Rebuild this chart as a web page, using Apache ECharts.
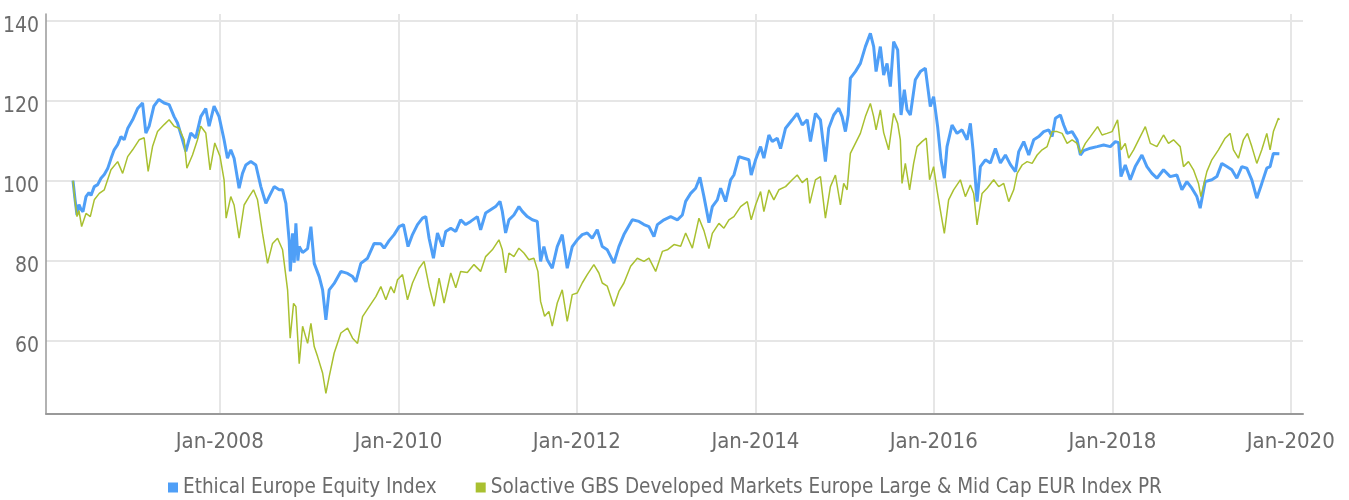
<!DOCTYPE html>
<html>
<head>
<meta charset="utf-8">
<script src="https://cdn.jsdelivr.net/npm/echarts@6/dist/echarts.min.js"></script>
<style>
  html, body { margin: 0; padding: 0; background: #fff; }
  #chart { width: 1349px; height: 500px; }
</style>
</head>
<body>
<div id="chart"></div>
<script>
// Series names (legend order)
const seriesNames = [
  'Ethical Europe Equity Index',
  'Solactive GBS Developed Markets Europe Large & Mid Cap EUR Index PR'
];

// Observation times as decimal years, and index levels (start = 100)
const ethicalYears = [
  2006.354, 2006.376, 2006.399, 2006.421, 2006.444, 2006.466, 2006.500, 2006.533, 2006.556, 2006.593, 2006.631, 2006.668, 2006.705, 2006.743, 2006.780, 2006.816, 2006.855, 2006.892, 2006.928, 2006.967,
  2007.023, 2007.078, 2007.134, 2007.171, 2007.208, 2007.261, 2007.317, 2007.376, 2007.432, 2007.488, 2007.526, 2007.582, 2007.619, 2007.675, 2007.731, 2007.787, 2007.843, 2007.880, 2007.936, 2007.992,
  2008.048, 2008.086, 2008.123, 2008.160, 2008.216, 2008.254, 2008.291, 2008.347, 2008.403, 2008.459, 2008.515, 2008.552, 2008.608, 2008.664, 2008.702, 2008.739, 2008.776, 2008.789, 2008.814, 2008.832, 2008.851, 2008.873, 2008.888, 2008.926, 2008.944, 2008.982,
  2009.000, 2009.019, 2009.056, 2009.112, 2009.150, 2009.187, 2009.224, 2009.280, 2009.355, 2009.430, 2009.486, 2009.523, 2009.579, 2009.654, 2009.728, 2009.803, 2009.840, 2009.896, 2009.952,
  2010.008, 2010.057, 2010.108, 2010.158, 2010.214, 2010.270, 2010.307, 2010.344, 2010.393, 2010.438, 2010.494, 2010.531, 2010.587, 2010.643, 2010.698, 2010.754, 2010.810, 2010.885, 2010.922, 2010.978,
  2011.034, 2011.090, 2011.139, 2011.165, 2011.202, 2011.239, 2011.295, 2011.351, 2011.389, 2011.445, 2011.501, 2011.557, 2011.594, 2011.631, 2011.669, 2011.725, 2011.781, 2011.837, 2011.893, 2011.949,
  2012.005, 2012.061, 2012.117, 2012.173, 2012.229, 2012.285, 2012.341, 2012.415, 2012.471, 2012.527, 2012.621, 2012.695, 2012.751, 2012.807, 2012.863, 2012.901, 2012.975,
  2013.050, 2013.125, 2013.181, 2013.218, 2013.274, 2013.330, 2013.378, 2013.423, 2013.479, 2013.517, 2013.573, 2013.610, 2013.666, 2013.722, 2013.759, 2013.815, 2013.871, 2013.927, 2013.953,
  2014.002, 2014.058, 2014.095, 2014.151, 2014.189, 2014.245, 2014.282, 2014.338, 2014.413, 2014.469, 2014.525, 2014.581, 2014.617, 2014.673, 2014.729, 2014.785, 2014.822, 2014.878, 2014.934, 2014.972,
  2015.009, 2015.040, 2015.065, 2015.121, 2015.177, 2015.233, 2015.289, 2015.326, 2015.353, 2015.401, 2015.438, 2015.476, 2015.513, 2015.550, 2015.595, 2015.633, 2015.670, 2015.700, 2015.737, 2015.793, 2015.849, 2015.905, 2015.961, 2015.998,
  2016.043, 2016.081, 2016.118, 2016.148, 2016.204, 2016.260, 2016.316, 2016.372, 2016.409, 2016.439, 2016.484, 2016.521, 2016.577, 2016.633, 2016.689, 2016.745, 2016.801, 2016.857, 2016.913, 2016.950,
  2017.006, 2017.062, 2017.118, 2017.174, 2017.230, 2017.286, 2017.324, 2017.361, 2017.417, 2017.454, 2017.492, 2017.548, 2017.604, 2017.641, 2017.678, 2017.753, 2017.828, 2017.902, 2017.977,
  2018.033, 2018.070, 2018.096, 2018.144, 2018.200, 2018.256, 2018.331, 2018.387, 2018.443, 2018.499, 2018.573, 2018.648, 2018.723, 2018.779, 2018.835, 2018.891, 2018.947, 2018.984,
  2019.040, 2019.115, 2019.171, 2019.227, 2019.283, 2019.339, 2019.395, 2019.451, 2019.507, 2019.563, 2019.619, 2019.675, 2019.731, 2019.768, 2019.805, 2019.872
];
const ethicalValues = [
  100, 95.5, 91.4, 94, 92.8, 92.2, 96, 97, 96.3, 98.5, 99, 100.6, 101.5, 103, 105.5, 107.7, 109, 111, 110.2, 113,
  115.2, 118, 119.4, 111.9, 113.6, 118.6, 120.3, 119.4, 119, 116, 114.4, 110.2, 107.3, 111.9, 110.7, 116, 118, 113.6, 118.6, 116,
  110.2, 105.6, 107.7, 105.6, 98.1, 101.8, 103.9, 104.75, 103.9, 98.5, 94.3, 96, 98.5, 97.7, 97.7, 94.3, 85, 77.3, 86.8, 79.5, 89.3, 80, 83.5, 82, 81.8, 83,
  82.7, 88.5, 79.3, 76, 72.7, 65.2, 72.7, 74.3, 77.3, 76.8, 76, 74.7, 79.3, 80.6, 84.3, 84.2, 83.1, 85, 86.5,
  88.5, 89, 83.5, 86.5, 89, 90.6, 91, 85.6, 80.6, 86.9, 83.5, 87.3, 88.1, 87.3, 90.2, 89, 89.8, 91, 87.7, 91.9,
  92.7, 93.5, 94.8, 92.3, 86.9, 90.2, 91.4, 93.5, 92.3, 91, 90.2, 89.8, 79.8, 83.5, 80.2, 78.1, 83.5, 86.5, 78.1, 83.5,
  85.2, 86.5, 86.9, 85.6, 87.7, 83.5, 82.7, 79.4, 83.5, 86.5, 90.2, 89.8, 89, 88.5, 86, 89, 90.2,
  91, 90.2, 91.4, 94.8, 96.8, 98.1, 100.8, 96, 89.5, 93.5, 95.2, 98.1, 94.75, 100.2, 101.4, 106, 105.6, 105.2, 101.4,
  105.2, 108.5, 105.6, 111.4, 109.75, 110.6, 108, 113.1, 115.2, 116.8, 113.9, 115.2, 109.75, 116.8, 115.2, 104.75, 113.1, 116.4, 118.1, 116,
  112.25, 116.4, 125.6, 127.25, 129.3, 133.5, 136.8, 133.5, 127.25, 133.5, 126.4, 129.3, 123.5, 134.75, 132.7, 116.4, 122.7, 117.7, 116.4, 125.2, 127.25, 128.1, 118.5, 121,
  113.5, 105.2, 100.6, 108.5, 113.9, 111.8, 112.7, 110.2, 114.3, 107.7, 94.75, 103.5, 105.2, 104.4, 108, 104.4, 106.4, 104, 102.25, 107.25,
  109.75, 106.4, 110.2, 111, 112.25, 112.7, 111, 115.6, 116.4, 113.9, 111.8, 112.25, 110.2, 106.4, 107.5, 108.1, 108.5, 108.9, 108.5,
  109.75, 109.5, 101, 103.9, 100.2, 103.5, 106.4, 103.5, 101.8, 100.6, 102.7, 101, 101.4, 97.7, 99.75, 98.1, 96, 93.1,
  99.75, 100.2, 101, 104.3, 103.5, 102.7, 100.6, 103.5, 103.1, 100.2, 95.6, 99.3, 103.1, 103.5, 106.8, 106.7
];

const solactiveYears = [
  2006.354, 2006.376, 2006.399, 2006.421, 2006.451, 2006.500, 2006.548, 2006.593, 2006.649, 2006.705, 2006.780, 2006.855, 2006.911, 2006.967,
  2007.023, 2007.096, 2007.152, 2007.197, 2007.246, 2007.302, 2007.376, 2007.432, 2007.488, 2007.544, 2007.600, 2007.631, 2007.694, 2007.750, 2007.787, 2007.843, 2007.891, 2007.944,
  2008.003, 2008.048, 2008.071, 2008.123, 2008.160, 2008.216, 2008.272, 2008.328, 2008.377, 2008.422, 2008.478, 2008.534, 2008.590, 2008.646, 2008.702, 2008.758, 2008.787, 2008.825, 2008.851, 2008.888, 2008.926, 2008.982,
  2009.019, 2009.056, 2009.094, 2009.150, 2009.187, 2009.224, 2009.280, 2009.355, 2009.430, 2009.486, 2009.542, 2009.598, 2009.672, 2009.747, 2009.803, 2009.859, 2009.915, 2009.952, 2009.990,
  2010.046, 2010.102, 2010.158, 2010.232, 2010.288, 2010.344, 2010.400, 2010.456, 2010.512, 2010.587, 2010.643, 2010.698, 2010.773, 2010.847, 2010.922, 2010.978,
  2011.053, 2011.127, 2011.165, 2011.202, 2011.239, 2011.295, 2011.351, 2011.407, 2011.463, 2011.519, 2011.564, 2011.594, 2011.639, 2011.687, 2011.725, 2011.781, 2011.837, 2011.893, 2011.949,
  2012.005, 2012.061, 2012.117, 2012.191, 2012.247, 2012.285, 2012.341, 2012.415, 2012.471, 2012.527, 2012.602, 2012.677, 2012.751, 2012.807, 2012.882, 2012.957,
  2013.013, 2013.087, 2013.162, 2013.218, 2013.293, 2013.367, 2013.423, 2013.479, 2013.517, 2013.591, 2013.647, 2013.703, 2013.759, 2013.834, 2013.909, 2013.953,
  2014.002, 2014.058, 2014.095, 2014.151, 2014.207, 2014.263, 2014.338, 2014.413, 2014.469, 2014.525, 2014.581, 2014.610, 2014.673, 2014.729, 2014.785, 2014.841, 2014.897, 2014.953, 2014.990,
  2015.028, 2015.065, 2015.121, 2015.177, 2015.233, 2015.289, 2015.326, 2015.353, 2015.401, 2015.438, 2015.494, 2015.550, 2015.595, 2015.625, 2015.644, 2015.681, 2015.729, 2015.774, 2015.812, 2015.868, 2015.916, 2015.953, 2015.998,
  2016.036, 2016.073, 2016.118, 2016.166, 2016.222, 2016.297, 2016.353, 2016.409, 2016.446, 2016.484, 2016.540, 2016.596, 2016.670, 2016.726, 2016.782, 2016.838, 2016.894, 2016.932, 2016.988,
  2017.044, 2017.100, 2017.156, 2017.212, 2017.268, 2017.324, 2017.380, 2017.436, 2017.492, 2017.548, 2017.604, 2017.641, 2017.697, 2017.753, 2017.834, 2017.884, 2017.940, 2017.996,
  2018.058, 2018.096, 2018.144, 2018.182, 2018.238, 2018.294, 2018.369, 2018.425, 2018.499, 2018.573, 2018.629, 2018.685, 2018.760, 2018.797, 2018.853, 2018.909, 2018.965, 2018.992,
  2019.059, 2019.115, 2019.189, 2019.264, 2019.320, 2019.357, 2019.413, 2019.469, 2019.514, 2019.563, 2019.619, 2019.675, 2019.731, 2019.768, 2019.805, 2019.861, 2019.872
];
const solactiveValues = [
  100, 95, 91, 92.5, 88.5, 91.8, 91, 95.2, 96.8, 97.7, 102.7, 104.75, 101.8, 106,
  107.7, 110.2, 110.7, 102.3, 108.5, 112.3, 114, 115.2, 113.6, 113.1, 110.2, 103.1, 106.4, 110.2, 113.6, 111.9, 102.7, 109.4,
  106, 100.2, 90.6, 96, 93.9, 85.6, 93.9, 96, 97.7, 95.2, 86.8, 79.3, 84.3, 85.6, 82.7, 72.7, 60.6, 69.3, 68.5, 54.25, 63.6, 59.3,
  64.3, 58.5, 56, 51.9, 46.8, 51, 56.9, 61.9, 63.1, 60.6, 59.3, 66, 68.5, 71, 73.5, 70.2, 73.5, 71.9, 75.2,
  76.5, 70.2, 74.4, 78.1, 79.8, 73.6, 68.6, 75.6, 69.4, 76.9, 73.2, 77.3, 77, 79, 77.3, 81,
  82.7, 85.2, 82.7, 76.9, 81.9, 81, 83.1, 81.9, 80.2, 80.6, 77.3, 69.8, 66.1, 67.3, 63.6, 69.4, 72.7, 64.8, 71.5,
  71.9, 74.4, 76.5, 79, 76.9, 74.4, 73.6, 68.6, 72.3, 74.4, 78.6, 80.6, 79.8, 80.6, 77.3, 82.3,
  82.7, 84, 83.6, 86.9, 83.1, 90.6, 87.5, 83, 86.8, 89.3, 88.1, 90.2, 91, 93.5, 94.75, 90.2,
  93.9, 97.25, 92.25, 97.7, 95.2, 97.7, 98.5, 100.2, 101.4, 99.5, 100.6, 94.3, 100.2, 101, 90.6, 98.5, 101.4, 93.9, 99.3,
  97.7, 106.8, 109.3, 111.8, 116, 119.3, 116, 112.7, 117.7, 112, 107.7, 116.8, 114.3, 110.2, 99.3, 104.3, 97.7, 104.3, 108.5, 109.75, 110.6, 100.2, 103.5,
  97.7, 92.7, 86.8, 95.2, 97.7, 100.2, 96, 98.9, 96.8, 88.9, 96.8, 98.1, 100.2, 98.5, 99.3, 94.75, 97.7, 101.8, 103.9,
  104.75, 104.3, 106.4, 107.7, 108.5, 112.25, 112.25, 111.8, 109.3, 110.2, 109.3, 106.8, 109.3, 111, 113.5, 111.4, 111.8, 112.25,
  115.2, 107.7, 109.3, 105.6, 107.7, 110.2, 113.5, 109.3, 108.5, 111.4, 109.3, 110.2, 108.5, 103.5, 104.75, 102.7, 99.3, 96,
  102.25, 105.2, 107.7, 110.6, 111.8, 107.7, 105.6, 110.2, 111.8, 108.5, 104.3, 107.7, 111.8, 107.7, 112.25, 115.6, 115.2
];

// Axis ticks
const yTicks = [60, 80, 100, 120, 140];
const xTickYears = [2008, 2010, 2012, 2014, 2016, 2018, 2020];

// Decimal year -> UTC timestamp
function yearToTime(y) {
  const yr = Math.floor(y);
  const a = Date.UTC(yr, 0, 1);
  const b = Date.UTC(yr + 1, 0, 1);
  return a + (y - yr) * (b - a);
}
function pairs(years, values) {
  return years.map((y, i) => [yearToTime(y), values[i]]);
}

const FONT = "'DejaVu Sans Condensed', 'Liberation Sans Narrow', sans-serif";
const TEXT = '#6b6b6b';
const xTicks = xTickYears.map(y => Date.UTC(y, 0, 1));

const chart = echarts.init(document.getElementById('chart'), null, { renderer: 'canvas' });
chart.setOption({
  animation: false,
  backgroundColor: '#ffffff',
  textStyle: { fontFamily: FONT },
  grid: { left: 45, right: 46, top: 14, bottom: 86, containLabel: false },
  legend: {
    data: seriesNames,
    left: 163,
    top: 472,
    icon: 'rect',
    itemWidth: 10,
    itemHeight: 10,
    itemGap: 39,
    textStyle: { fontFamily: FONT, fontSize: 20.5, color: TEXT }
  },
  xAxis: {
    // timestamps on a linear axis, labelled at the start of every second year
    type: 'value',
    min: Date.UTC(2006, 0, 20),
    max: Date.UTC(2020, 1, 20),
    axisLine: { show: true, onZero: false, lineStyle: { color: '#999999', width: 2 } },
    axisTick: { show: false, customValues: xTicks },
    axisLabel: {
      customValues: xTicks,
      formatter: v => 'Jan-' + new Date(v).getUTCFullYear(),
      fontFamily: FONT, fontSize: 22, color: TEXT, margin: 17
    },
    splitLine: { show: true, lineStyle: { color: '#e6e6e6', width: 2 } }
  },
  yAxis: {
    type: 'value',
    min: 41.65,
    max: 141.65,
    axisLine: { show: true, lineStyle: { color: '#999999', width: 1.5 } },
    axisTick: { show: false, customValues: yTicks },
    axisLabel: {
      customValues: yTicks,
      // an empty first line drops each value slightly below its grid line
      formatter: v => '\n' + v,
      lineHeight: 11,
      fontFamily: FONT, fontSize: 21, color: TEXT, margin: 7
    },
    splitLine: { show: true, lineStyle: { color: '#e6e6e6', width: 2 } }
  },
  series: [
    {
      name: seriesNames[0],
      type: 'line',
      data: pairs(ethicalYears, ethicalValues),
      showSymbol: false,
      symbol: 'none',
      color: '#4f9ff7',
      lineStyle: { color: '#4f9ff7', width: 3 }
    },
    {
      name: seriesNames[1],
      type: 'line',
      data: pairs(solactiveYears, solactiveValues),
      showSymbol: false,
      symbol: 'none',
      color: '#a9c030',
      lineStyle: { color: '#a9c030', width: 1.5 }
    }
  ]
});
</script>
</body>
</html>
